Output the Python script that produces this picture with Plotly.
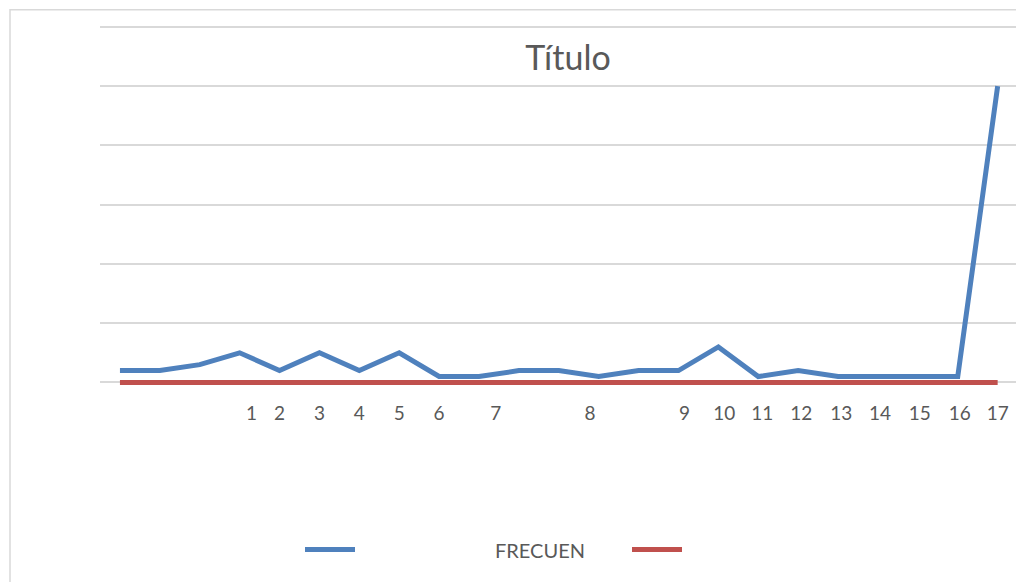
import plotly.graph_objects as go

# Data
categories = list(range(23))
frecuencia = [2, 2, 3, 5, 2, 5, 2, 5, 1, 1, 2, 2, 1, 2, 2, 6, 1, 2, 1, 1, 1, 1, 50]
serie_roja = [0] * 23
tick_labels = [str(i) for i in range(1, 18)]
legend_label = "FRECUEN"
title_text = "Título"

# tick label positions (layout only)
tick_positions = [3.3, 4, 5, 6, 7, 8, 9.42, 11.78, 14.15, 15.15, 16.1, 17.08,
                  18.08, 19.05, 20.05, 21.05, 22]

BLUE = "#4f81bd"
RED = "#c0504d"
GRID = "#d9d9d9"
TXT = "#595959"
FONT = "Lato"

Y0 = -0.6
Y1 = 60.3
PX_PER_UNIT = (382 - 27) / 60.0
bottom_px = 382 + (-Y0) * PX_PER_UNIT
top_px = 27 - (Y1 - 60) * PX_PER_UNIT
plot_h = bottom_px - top_px


def py(pixel_y):
    return (bottom_px - pixel_y) / plot_h


fig = go.Figure()
fig.add_trace(go.Scatter(x=categories, y=frecuencia, mode="lines", name=" ",
                         line=dict(color=BLUE, width=5)))
fig.add_trace(go.Scatter(x=categories, y=serie_roja, mode="lines", name=" ",
                         line=dict(color=RED, width=5)))

fig.update_layout(
    width=1016, height=582,
    margin=dict(l=100, r=0, t=top_px, b=582 - bottom_px),
    paper_bgcolor="white", plot_bgcolor="white",
    font=dict(family=FONT, color=TXT, size=19),
    title=dict(text=title_text, x=568 / 1016, xref="container", xanchor="center",
               y=1 - 58 / 582, yref="container", yanchor="middle",
               font=dict(family=FONT, size=34, color=TXT)),
    showlegend=True,
    legend=dict(orientation="h", x=(300 - 100) / 916, xanchor="left",
                y=py(549), yanchor="middle",
                entrywidth=262, entrywidthmode="pixels", itemwidth=50,
                font=dict(family=FONT, size=19, color=TXT)),
)
fig.update_xaxes(range=[-0.5, 22.46], tickmode="array", tickvals=tick_positions,
                 ticktext=tick_labels, showgrid=False, zeroline=False,
                 showline=False, ticks="outside", ticklen=10,
                 tickcolor="rgba(0,0,0,0)", automargin=False,
                 tickfont=dict(family=FONT, size=19, color=TXT))
fig.update_yaxes(range=[Y0, Y1], tick0=0, dtick=10, showgrid=True, gridcolor=GRID,
                 gridwidth=1.5, zeroline=False, showticklabels=False,
                 showline=False, automargin=False)

# outer chart border
fig.add_shape(type="rect", xref="paper", yref="paper",
              x0=(10 - 100) / 916, x1=1.05, y0=-0.8, y1=py(10),
              line=dict(color=GRID, width=1.5), fillcolor="rgba(0,0,0,0)",
              layer="below")

fig.add_annotation(text=legend_label, xref="paper", yref="paper",
                   x=(540 - 100) / 916, y=py(549),
                   showarrow=False, xanchor="center", yanchor="middle",
                   font=dict(family=FONT, size=20, color=TXT))

fig.write_html("out.html", config={"displayModeBar": False},
               post_script="document.body.style.margin='0';")
